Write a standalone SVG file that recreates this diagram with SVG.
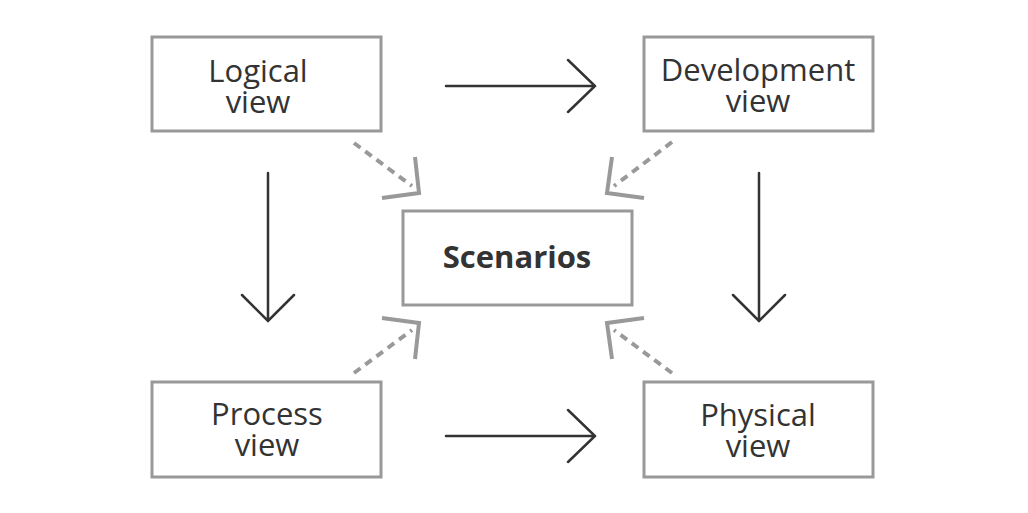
<svg xmlns="http://www.w3.org/2000/svg" width="1028" height="513" viewBox="0 0 1028 513">
<style>
.box{fill:#fff;stroke:#999;stroke-width:3}
.t{font-family:"Open Sans","DejaVu Sans",sans-serif;font-size:31px;fill:#333;text-anchor:middle}
.b{font-weight:bold;font-size:31px}
.solid{fill:none;stroke:#333;stroke-width:2.5;stroke-linecap:round;stroke-linejoin:miter}
.dash{fill:none;stroke:#999;stroke-width:4;stroke-dasharray:8,6}
.head{fill:none;stroke:#999;stroke-width:4;stroke-linejoin:miter}
</style>
<rect width="1028" height="513" fill="#fff"/>
<g id="connectors">
<path class="solid" d="M446 86H595M568 60L595 86L568 112"/>
<path class="solid" d="M446 436H595M568 410L595 436L568 462"/>
<path class="solid" d="M268 173V321M242 295L268 321L294 295"/>
<path class="solid" d="M759 173V321M733 295L759 321L785 295"/>
<path class="dash" d="M354 143L412 186"/>
<path class="head" d="M415 157L419 193L382 198"/>
<path class="dash" d="M672 142L614 186"/>
<path class="head" d="M612 157L607 193L644 198"/>
<path class="dash" d="M354 373L412 330"/>
<path class="head" d="M415 359L419 323L382 318"/>
<path class="dash" d="M672 373L614 330"/>
<path class="head" d="M612 359L607 323L644 318"/>
</g>
<g id="logical"><rect class="box" x="152" y="37" width="229" height="94"/><text class="t"><tspan x="258" y="82">Logical</tspan><tspan x="258" y="113">view</tspan></text></g>
<g id="development"><rect class="box" x="644" y="37" width="229" height="94"/><text class="t"><tspan x="758" y="81">Development</tspan><tspan x="758" y="112">view</tspan></text></g>
<g id="scenarios"><rect class="box" x="403" y="211" width="229" height="94"/><text class="t b" x="517" y="268">Scenarios</text></g>
<g id="process"><rect class="box" x="152" y="382" width="229" height="95"/><text class="t"><tspan x="267" y="425">Process</tspan><tspan x="267" y="456">view</tspan></text></g>
<g id="physical"><rect class="box" x="644" y="382" width="229" height="95"/><text class="t"><tspan x="758" y="426">Physical</tspan><tspan x="758" y="457">view</tspan></text></g>
</svg>
